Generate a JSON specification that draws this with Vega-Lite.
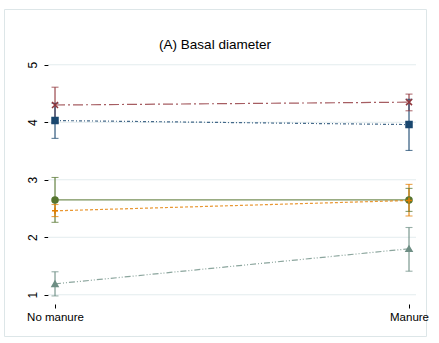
{
  "$schema": "https://vega.github.io/schema/vega-lite/v6.json",
  "autosize": {"type": "none"},
  "padding": {"left": 4, "top": 9, "right": 13, "bottom": 7},
  "width": 422,
  "height": 327,
  "background": "white",
  "config": {
    "view": {"stroke": "#dde6e8", "strokeWidth": 1},
    "font": "Liberation Sans"
  },
  "title": {
    "text": "(A) Basal diameter",
    "fontSize": 13.5,
    "font": "Liberation Sans",
    "fontWeight": "normal",
    "color": "#000000",
    "frame": "group",
    "anchor": "middle",
    "offset": 0,
    "baseline": "alphabetic",
    "dy": 53.5
  },
  "datasets": {
    "pts": [
      {"series": "s1", "x": 0, "mean": 4.30, "lo": 3.99, "hi": 4.61},
      {"series": "s1", "x": 1, "mean": 4.35, "lo": 4.20, "hi": 4.49},
      {"series": "s2", "x": 0, "mean": 4.03, "lo": 3.72, "hi": 4.33},
      {"series": "s2", "x": 1, "mean": 3.96, "lo": 3.51, "hi": 4.40},
      {"series": "s3", "x": 0, "mean": 2.65, "lo": 2.26, "hi": 3.04},
      {"series": "s3", "x": 1, "mean": 2.65, "lo": 2.45, "hi": 2.85},
      {"series": "s4", "x": 0, "mean": 2.46, "lo": 2.36, "hi": 2.57},
      {"series": "s4", "x": 1, "mean": 2.64, "lo": 2.37, "hi": 2.92},
      {"series": "s5", "x": 0, "mean": 1.19, "lo": 0.98, "hi": 1.40},
      {"series": "s5", "x": 1, "mean": 1.80, "lo": 1.41, "hi": 2.17}
    ],
    "grid": [{"g": 1}, {"g": 2}, {"g": 3}, {"g": 4}, {"g": 5}]
  },
  "resolve": {"scale": {"x": "shared", "y": "shared"}},
  "layer": [
    {
      "data": {"name": "grid"},
      "mark": {"type": "rule", "color": "#e3ecee", "strokeWidth": 1},
      "encoding": {
        "y": {"field": "g", "type": "quantitative", "scale": {"domain": [0.283, 5.970], "nice": false, "zero": false},
              "axis": {"values": [1, 2, 3, 4, 5], "format": "d", "offset": -44, "domain": false, "grid": false, "title": null,
                       "labelAngle": -90, "labelAlign": "center", "labelBaseline": "bottom", "labelPadding": 5,
                       "labelFontSize": 12, "labelFont": "Liberation Sans", "labelColor": "#000000",
                       "tickColor": "#000000", "tickSize": 4, "tickWidth": 1}},
        "x": {"datum": -0.0198, "type": "quantitative",
              "scale": {"domain": [-0.1441, 1.0480], "nice": false, "zero": false},
              "axis": {"values": [0, 1], "offset": -32, "domain": false, "grid": false, "title": null,
                       "labelExpr": "datum.value == 0 ? 'No manure' : 'Manure'",
                       "labelFontSize": 11.5, "labelFont": "Liberation Sans", "labelColor": "#000000",
                       "labelPadding": 3, "tickColor": "#000000", "tickSize": 4, "tickWidth": 1}},
        "x2": {"datum": 1.0198}
      }
    },
    {
      "mark": {"type": "rule", "color": "#000000", "strokeWidth": 1.3},
      "encoding": {
        "x": {"datum": -0.0198, "type": "quantitative"},
        "y": {"datum": 0.843, "type": "quantitative"},
        "y2": {"datum": 5.12}
      }
    },
    {
      "mark": {"type": "rule", "color": "#555555", "strokeWidth": 1.6},
      "encoding": {
        "x": {"datum": -0.0198, "type": "quantitative"},
        "x2": {"datum": 1.0198},
        "y": {"datum": 0.843, "type": "quantitative"}
      }
    },
    {
      "data": {"name": "pts"},
      "mark": {"type": "line", "opacity": 0.8},
      "encoding": {
        "x": {"field": "x", "type": "quantitative"},
        "y": {"field": "mean", "type": "quantitative"},
        "detail": {"field": "series"},
        "color": {"field": "series", "type": "nominal", "legend": null,
                  "scale": {"domain": ["s1", "s2", "s3", "s4", "s5"], "range": ["#90353b", "#1a476f", "#55752f", "#e37e00", "#6e8e84"]}},
        "strokeDash": {"field": "series", "type": "nominal", "legend": null,
                       "scale": {"domain": ["s1", "s2", "s3", "s4", "s5"], "range": [[10, 3, 2, 3], [3, 2, 1, 2], [1, 0], [3, 2], [6, 2, 1, 2, 1, 2]]}},
        "strokeWidth": {"field": "series", "type": "nominal", "legend": null,
                        "scale": {"domain": ["s1", "s2", "s3", "s4", "s5"], "range": [1.2, 1.2, 2, 1.2, 1.2]}}
      }
    },
    {
      "data": {"name": "pts"},
      "mark": {"type": "rule", "strokeWidth": 1.1},
      "encoding": {
        "x": {"field": "x", "type": "quantitative"},
        "y": {"field": "lo", "type": "quantitative"},
        "y2": {"field": "hi"},
        "color": {"field": "series", "type": "nominal", "legend": null}
      }
    },
    {
      "data": {"name": "pts"},
      "mark": {"type": "tick", "orient": "horizontal", "size": 7, "thickness": 1.1},
      "encoding": {
        "x": {"field": "x", "type": "quantitative"},
        "y": {"field": "lo", "type": "quantitative"},
        "color": {"field": "series", "type": "nominal", "legend": null}
      }
    },
    {
      "data": {"name": "pts"},
      "mark": {"type": "tick", "orient": "horizontal", "size": 7, "thickness": 1.1},
      "encoding": {
        "x": {"field": "x", "type": "quantitative"},
        "y": {"field": "hi", "type": "quantitative"},
        "color": {"field": "series", "type": "nominal", "legend": null}
      }
    },
    {
      "data": {"name": "pts"},
      "mark": {"type": "point", "filled": true, "size": 36, "strokeWidth": 1.5, "opacity": 1},
      "encoding": {
        "x": {"field": "x", "type": "quantitative"},
        "y": {"field": "mean", "type": "quantitative"},
        "fill": {"field": "series", "type": "nominal", "legend": null,
                 "scale": {"domain": ["s1", "s2", "s3", "s4", "s5"], "range": ["#90353b", "#1a476f", "#55752f", "#e37e00", "#6e8e84"]}},
        "stroke": {"field": "series", "type": "nominal", "legend": null,
                   "scale": {"domain": ["s1", "s2", "s3", "s4", "s5"], "range": ["#90353b", "#1a476f", "#55752f", "#e37e00", "#6e8e84"]}},
        "shape": {"field": "series", "type": "nominal", "legend": null,
                  "scale": {"domain": ["s1", "s2", "s3", "s4", "s5"], "range": ["M-1,-1L1,1M-1,1L1,-1", "square", "circle", "M-1,0L1,0M0,-1L0,1", "triangle-up"]}}
      }
    }
  ]
}
